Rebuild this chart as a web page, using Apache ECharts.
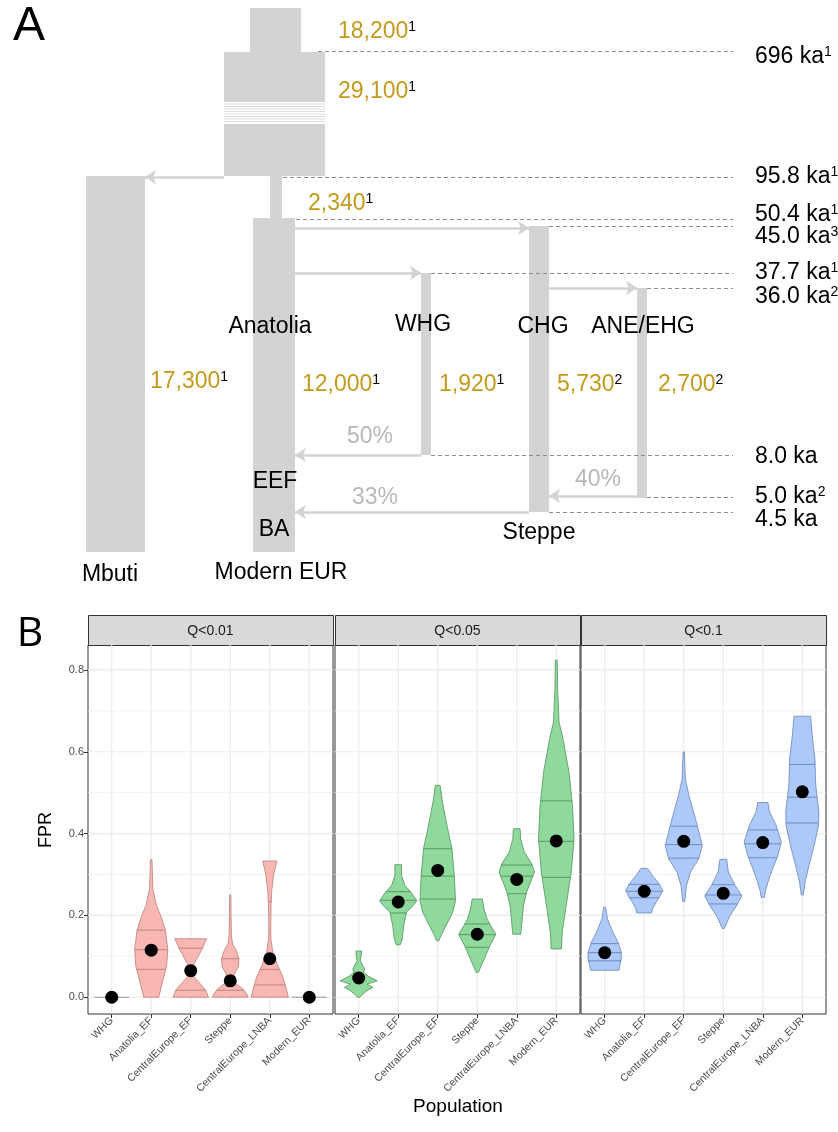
<!DOCTYPE html>
<html>
<head>
<meta charset="utf-8">
<style>
  html, body { margin: 0; padding: 0; background: #fff; }
  #chart { width: 838px; height: 1132px; }
</style>
<script src="https://cdn.jsdelivr.net/npm/echarts@6.0.0/dist/echarts.min.js"></script>
</head>
<body>
<div id="chart"></div>
<script>
// ---------- panel A: demographic model ----------
const timeLabels = ['696 ka', '95.8 ka', '50.4 ka', '45.0 ka', '37.7 ka', '36.0 ka', '8.0 ka', '5.0 ka', '4.5 ka'];
const timeRefs = ['1', '1', '1', '3', '1', '2', '', '2', ''];
const neValues = ['18,200', '29,100', '2,340', '17,300', '12,000', '1,920', '5,730', '2,700'];
const neRefs = ['1', '1', '1', '1', '1', '1', '2', '2'];
const admixLabels = ['50%', '40%', '33%'];
const popLabels = ['Mbuti', 'Modern EUR', 'Anatolia', 'EEF', 'BA', 'WHG', 'CHG', 'ANE/EHG', 'Steppe'];

// diagram layout, in panel A canvas units
const timeY = [51, 177, 219, 226, 273, 288, 455, 497, 512];
const timeTextY = [57, 177, 215, 237, 273, 297, 457, 497, 520];
const dashFromX = [318, 283, 296, 549, 431, 647, 431, 647, 549];
const dashToX = 733;
const branchBoxes = [ // x0, x1, y0, y1
    [250, 301, 8, 52], [224, 325, 52, 102], [224, 325, 124, 176],
    [86, 145, 176, 552], [270, 282, 176, 219], [253, 295, 218, 552],
    [421, 431, 273, 455], [529, 549, 226, 512], [637, 647, 288, 498]
];
const breakLinesY = [104, 106.5, 109, 111.5, 114, 116.5, 119, 121.5];
const arrowPaths = [ // x from, x to, y
    [224, 145, 177], [295, 529, 228], [295, 421, 273], [549, 637, 288],
    [421, 295, 455], [637, 549, 496], [529, 295, 512]
];
const nePos = [[338, 32], [338, 92], [308, 204], [150, 382], [302, 385], [439, 385], [557, 385], [658, 385]];
const admixPos = [[370, 437], [598, 480], [375, 498]];
const popPos = [[110, 575], [281, 573], [270, 327], [275, 482], [274, 530], [423, 325], [543, 327], [643, 327], [539, 533]];

// ---------- panel B: FPR violins ----------
const populations = ['WHG', 'Anatolia_EF', 'CentralEurope_EF', 'Steppe', 'CentralEurope_LNBA', 'Modern_EUR'];
const facets = ['Q<0.01', 'Q<0.05', 'Q<0.1'];
const yTicks = [0, 0.2, 0.4, 0.6, 0.8];
const yMinor = [0.1, 0.3, 0.5, 0.7];

// violin outlines: [FPR, half width in category units], top to bottom
const q01Shape = [
    [[0, 0.44]],
    [[0.336, 0.02], [0.266, 0.04], [0.225, 0.13], [0.2, 0.24], [0.163, 0.36], [0.117, 0.42], [0.076, 0.39], [0.035, 0.28], [0, 0.19]],
    [[0.143, 0.40], [0.12, 0.30], [0.095, 0.16], [0.075, 0.05], [0.065, 0.03], [0.05, 0.08], [0.035, 0.22], [0.017, 0.38], [0, 0.45]],
    [[0.25, 0.015], [0.2, 0.02], [0.15, 0.03], [0.13, 0.06], [0.115, 0.15], [0.094, 0.22], [0.075, 0.21], [0.06, 0.12], [0.045, 0.08], [0.035, 0.12], [0.02, 0.32], [0.008, 0.42], [0, 0.45]],
    [[0.333, 0.18], [0.30, 0.10], [0.26, 0.05], [0.22, 0.03], [0.17, 0.025], [0.14, 0.03], [0.11, 0.08], [0.08, 0.19], [0.05, 0.33], [0.02, 0.42], [0, 0.47]],
    [[0, 0.44]]
];
const q05Shape = [
    [[0.113, 0.068], [0.105, 0.068], [0.089, 0.042], [0.069, 0.15], [0.061, 0.12], [0.051, 0.25], [0.040, 0.47], [0.032, 0.21], [0.024, 0.36], [0.016, 0.21], [0.007, 0.10], [0, 0.025]],
    [[0.324, 0.085], [0.297, 0.085], [0.273, 0.17], [0.257, 0.32], [0.236, 0.47], [0.224, 0.38], [0.208, 0.21], [0.175, 0.14], [0.142, 0.10], [0.128, 0.05]],
    [[0.518, 0.06], [0.477, 0.12], [0.412, 0.25], [0.363, 0.36], [0.297, 0.42], [0.236, 0.45], [0.208, 0.38], [0.175, 0.21], [0.150, 0.08], [0.138, 0.03]],
    [[0.240, 0.13], [0.216, 0.17], [0.191, 0.25], [0.175, 0.34], [0.154, 0.47], [0.126, 0.32], [0.101, 0.21], [0.077, 0.10], [0.061, 0.03]],
    [[0.412, 0.085], [0.387, 0.10], [0.355, 0.19], [0.326, 0.38], [0.306, 0.45], [0.289, 0.38], [0.257, 0.25], [0.224, 0.17], [0.183, 0.13], [0.154, 0.10]],
    [[0.824, 0.025], [0.755, 0.034], [0.673, 0.07], [0.632, 0.17], [0.551, 0.32], [0.469, 0.41], [0.387, 0.45], [0.306, 0.38], [0.224, 0.25], [0.159, 0.15], [0.118, 0.13]]
];
const q10Shape = [
    [[0.220, 0.025], [0.191, 0.07], [0.159, 0.21], [0.134, 0.34], [0.110, 0.42], [0.093, 0.42], [0.077, 0.38], [0.066, 0.36]],
    [[0.315, 0.085], [0.297, 0.21], [0.277, 0.38], [0.261, 0.47], [0.244, 0.38], [0.232, 0.30], [0.216, 0.21], [0.206, 0.19]],
    [[0.600, 0.017], [0.534, 0.04], [0.494, 0.13], [0.453, 0.25], [0.420, 0.34], [0.371, 0.47], [0.338, 0.38], [0.306, 0.17], [0.273, 0.07], [0.234, 0.025]],
    [[0.337, 0.085], [0.306, 0.13], [0.273, 0.30], [0.248, 0.47], [0.224, 0.34], [0.199, 0.17], [0.168, 0.025]],
    [[0.476, 0.13], [0.453, 0.17], [0.420, 0.34], [0.379, 0.47], [0.346, 0.38], [0.314, 0.25], [0.281, 0.13], [0.261, 0.07], [0.244, 0.04]],
    [[0.687, 0.21], [0.641, 0.25], [0.583, 0.32], [0.518, 0.34], [0.453, 0.42], [0.420, 0.41], [0.371, 0.30], [0.322, 0.17], [0.281, 0.07], [0.250, 0.025]]
];
const q01Quant = [[], [0.068, 0.116, 0.164], [0.017, 0.065, 0.12], [0.017, 0.04, 0.094], [0.03, 0.068, 0.234], []];
const q05Quant = [[], [0.206, 0.237, 0.258], [0.240, 0.296, 0.363], [0.122, 0.153, 0.179], [0.253, 0.296, 0.323], [0.293, 0.381, 0.48]];
const q10Quant = [[0.089, 0.109, 0.131], [0.243, 0.259, 0.276], [0.340, 0.373, 0.418], [0.228, 0.25, 0.275], [0.341, 0.375, 0.409], [0.426, 0.489, 0.569]];
const q01Mean = [0, 0.115, 0.065, 0.04, 0.094, 0];
const q05Mean = [0.047, 0.233, 0.31, 0.154, 0.288, 0.382];
const q10Mean = [0.109, 0.259, 0.381, 0.254, 0.378, 0.502];
const q01Se = [0, 0.006, 0.005, 0.004, 0.011, 0];
const q05Se = [0.003, 0.003, 0.005, 0.003, 0.003, 0.011];
const q10Se = [0.003, 0.002, 0.005, 0.003, 0.004, 0.006];

const shapes = [q01Shape, q05Shape, q10Shape];
const quants = [q01Quant, q05Quant, q10Quant];
const means = [q01Mean, q05Mean, q10Mean];
const ses = [q01Se, q05Se, q10Se];
const fills = ['#F8B7B3', '#8ED99B', '#ADC9FA'];
const strokes = ['#B9807C', '#55925F', '#6A86B8'];

const panelLeft = [88, 335, 581];
const panelW = 245;
const panelTop = 645;
const panelH = 369;
const fontA = '"Liberation Sans", Arial, sans-serif';

function widthAt (prof, v) {
    for (let k = 0; k < prof.length - 1; k++) {
        const a = prof[k], b = prof[k + 1];
        if (v <= a[0] && v >= b[0]) {
            return a[1] + (b[1] - a[1]) * (v - a[0]) / (b[0] - a[0]);
        }
    }
    return 0;
}

function hLine (x1, x2, y, stroke, w) {
    return {type: 'line', shape: {x1: x1, y1: y, x2: x2, y2: y}, style: {stroke: stroke, lineWidth: w}};
}

// grid lines of one facet
function renderGridLines (params, api) {
    const cs = params.coordSys;
    const children = [];
    yMinor.forEach((v) => {
        children.push(hLine(cs.x, cs.x + cs.width, api.coord([1, v])[1], '#EEEEEE', 0.8));
    });
    yTicks.forEach((v) => {
        children.push(hLine(cs.x, cs.x + cs.width, api.coord([1, v])[1], '#EBEBEB', 1.2));
    });
    populations.forEach((p, i) => {
        const x = api.coord([i + 1, 0])[0];
        children.push({type: 'line', shape: {x1: x, y1: cs.y, x2: x, y2: cs.y + cs.height},
            style: {stroke: '#EBEBEB', lineWidth: 1.2}});
    });
    return {type: 'group', children: children};
}

// violin + quantile lines + mean error bar
function violinRenderer (f) {
    return function (params, api) {
        const i = params.dataIndex;
        const cx = i + 1;
        const prof = shapes[f][i];
        const children = [];
        if (prof.length === 1) {
            const a = api.coord([cx - prof[0][1], prof[0][0]]);
            const b = api.coord([cx + prof[0][1], prof[0][0]]);
            children.push(hLine(a[0], b[0], a[1], '#9A9A9A', 1.2));
        } else {
            const pts = [];
            prof.forEach((p) => pts.push(api.coord([cx + p[1], p[0]])));
            for (let k = prof.length - 1; k >= 0; k--) {
                pts.push(api.coord([cx - prof[k][1], prof[k][0]]));
            }
            children.push({type: 'polygon', shape: {points: pts},
                style: {fill: fills[f], stroke: strokes[f], lineWidth: 0.8}});
            quants[f][i].forEach((q) => {
                const hw = widthAt(prof, q);
                const a = api.coord([cx - hw, q]);
                const b = api.coord([cx + hw, q]);
                children.push(hLine(a[0], b[0], a[1], strokes[f], 0.9));
            });
        }
        const s = ses[f][i];
        if (s > 0) {
            const m = means[f][i];
            const lo = api.coord([cx, m - s]);
            const hi = api.coord([cx, m + s]);
            children.push({type: 'line', shape: {x1: lo[0], y1: lo[1], x2: hi[0], y2: hi[1]},
                style: {stroke: '#000', lineWidth: 1.5}});
        }
        return {type: 'group', children: children};
    };
}

function supText (main, sup, color, size, align) {
    return {
        text: '{n|' + main + '}' + (sup ? '{s|' + sup + '}' : ''),
        rich: {
            n: {fontSize: size, fill: color, fontFamily: fontA},
            s: {fontSize: 14, fill: '#000', fontFamily: fontA, verticalAlign: 'top'}
        },
        align: align,
        verticalAlign: 'middle'
    };
}

// panel A: every element through the hidden diagram axes (index 3)
function renderDiagramText (params, api) {
    const children = [];
    timeLabels.forEach((t, i) => {
        const p = api.coord([755, timeTextY[i]]);
        children.push({type: 'text', x: p[0], y: p[1], style: supText(t, timeRefs[i], '#000', 23, 'left')});
    });
    neValues.forEach((t, i) => {
        const p = api.coord(nePos[i]);
        children.push({type: 'text', x: p[0], y: p[1], style: supText(t, neRefs[i], '#C49A1C', 23, 'left')});
    });
    admixLabels.forEach((t, i) => {
        const p = api.coord(admixPos[i]);
        children.push({type: 'text', x: p[0], y: p[1], style: supText(t, '', '#B8B8B8', 23, 'center')});
    });
    popLabels.forEach((t, i) => {
        const p = api.coord(popPos[i]);
        children.push({type: 'text', x: p[0], y: p[1], style: supText(t, '', '#000', 23, 'center')});
    });
    return {type: 'group', children: children};
}

function renderBoxes (params, api) {
    const children = branchBoxes.map((b) => {
        const p0 = api.coord([b[0], b[2]]);
        const p1 = api.coord([b[1], b[3]]);
        return {type: 'rect', shape: {x: p0[0], y: p0[1], width: p1[0] - p0[0], height: p1[1] - p0[1]},
            style: {fill: '#D3D3D3'}};
    });
    breakLinesY.forEach((y) => {
        const a = api.coord([224, y]);
        const b = api.coord([325, y]);
        children.push(hLine(a[0], b[0], a[1], '#DDDDDD', 1));
    });
    return {type: 'group', children: children};
}

const grids = [];
const xAxes = [];
const yAxes = [];
const series = [];
const graphics = [];

facets.forEach((name, f) => {
    grids.push({left: panelLeft[f], top: panelTop, width: panelW, height: panelH,
        show: true, backgroundColor: '#fff', borderColor: '#333', borderWidth: 1});
    xAxes.push({
        type: 'value', gridIndex: f, min: 0.4, max: 6.6, position: 'bottom',
        axisLine: {show: false, onZero: false},
        splitLine: {show: false},
        minorTick: {show: false},
        axisTick: {show: true, length: 4, customValues: [1, 2, 3, 4, 5, 6], lineStyle: {color: '#333'}},
        axisLabel: {
            customValues: [1, 2, 3, 4, 5, 6], rotate: 45, fontSize: 10.5, color: '#4D4D4D', margin: 5,
            fontFamily: fontA, formatter: (v) => populations[Math.round(v) - 1]
        }
    });
    yAxes.push({
        type: 'value', gridIndex: f, min: -0.041, max: 0.861, position: 'left',
        axisLine: {show: false, onZero: false},
        splitLine: {show: false},
        axisTick: {show: f === 0, length: 4, customValues: yTicks, lineStyle: {color: '#333'}},
        axisLabel: {show: f === 0, customValues: yTicks, fontSize: 11, color: '#4D4D4D', margin: 4,
            fontFamily: fontA, formatter: (v) => v.toFixed(1)}
    });
    series.push({type: 'custom', xAxisIndex: f, yAxisIndex: f, z: 1, silent: true,
        renderItem: renderGridLines, data: [[1, 0.4]]});
    series.push({type: 'custom', xAxisIndex: f, yAxisIndex: f, z: 2, silent: true,
        renderItem: violinRenderer(f), data: means[f].map((m, i) => [i + 1, m])});
    series.push({type: 'scatter', xAxisIndex: f, yAxisIndex: f, z: 4, symbolSize: 13, silent: true,
        itemStyle: {color: '#000', opacity: 1}, data: means[f].map((m, i) => [i + 1, m])});
    graphics.push({type: 'rect', left: panelLeft[f], top: 615,
        shape: {width: panelW, height: 30}, style: {fill: '#D9D9D9', stroke: '#333', lineWidth: 1}});
    graphics.push({type: 'text', x: panelLeft[f] + panelW / 2, y: 631,
        style: {text: name, fontSize: 14, fill: '#1A1A1A', fontFamily: fontA, align: 'center', verticalAlign: 'middle'}});
});

// panel A coordinate system
grids.push({left: 0, top: 0, width: 838, height: 600});
xAxes.push({type: 'value', gridIndex: 3, min: 0, max: 838, show: false});
yAxes.push({type: 'value', gridIndex: 3, min: 0, max: 600, inverse: true, show: false});

series.push({type: 'custom', xAxisIndex: 3, yAxisIndex: 3, z: 1, silent: true,
    renderItem: renderBoxes, data: [[400, 300]]});
series.push({
    type: 'lines', coordinateSystem: 'cartesian2d', xAxisIndex: 3, yAxisIndex: 3, z: 2, silent: true,
    symbol: 'none',
    lineStyle: {color: '#8C8C8C', width: 1.2, type: [4, 3], opacity: 1},
    data: timeY.map((y, i) => ({coords: [[dashFromX[i], y], [dashToX, y]]}))
});
series.push({
    type: 'lines', coordinateSystem: 'cartesian2d', xAxisIndex: 3, yAxisIndex: 3, z: 3, silent: true,
    symbol: ['none', 'arrow'], symbolSize: 11,
    lineStyle: {color: '#D3D3D3', width: 2.5, opacity: 1},
    data: arrowPaths.map((a) => ({coords: [[a[0], a[2]], [a[1], a[2]]]}))
});
series.push({type: 'custom', xAxisIndex: 3, yAxisIndex: 3, z: 5, silent: true,
    renderItem: renderDiagramText, data: [[400, 300]]});

graphics.push({type: 'text', x: 29, y: 27,
    style: {text: 'A', fontSize: 48, fill: '#000', fontFamily: fontA, align: 'center', verticalAlign: 'middle'}});
graphics.push({type: 'text', x: 30, y: 634,
    style: {text: 'B', fontSize: 41, fill: '#000', fontFamily: '"Open Sans", sans-serif', align: 'center', verticalAlign: 'middle'}});
graphics.push({type: 'text', x: 46, y: 830, rotation: Math.PI / 2,
    style: {text: 'FPR', fontSize: 18, fill: '#000', fontFamily: fontA, align: 'center', verticalAlign: 'middle'}});
graphics.push({type: 'text', x: 458, y: 1107,
    style: {text: 'Population', fontSize: 19, fill: '#000', fontFamily: fontA, align: 'center', verticalAlign: 'middle'}});

const myChart = echarts.init(document.getElementById('chart'), null, {renderer: 'canvas'});
myChart.setOption({
    animation: false,
    backgroundColor: '#fff',
    grid: grids,
    xAxis: xAxes,
    yAxis: yAxes,
    graphic: graphics,
    series: series
});
</script>
</body>
</html>
